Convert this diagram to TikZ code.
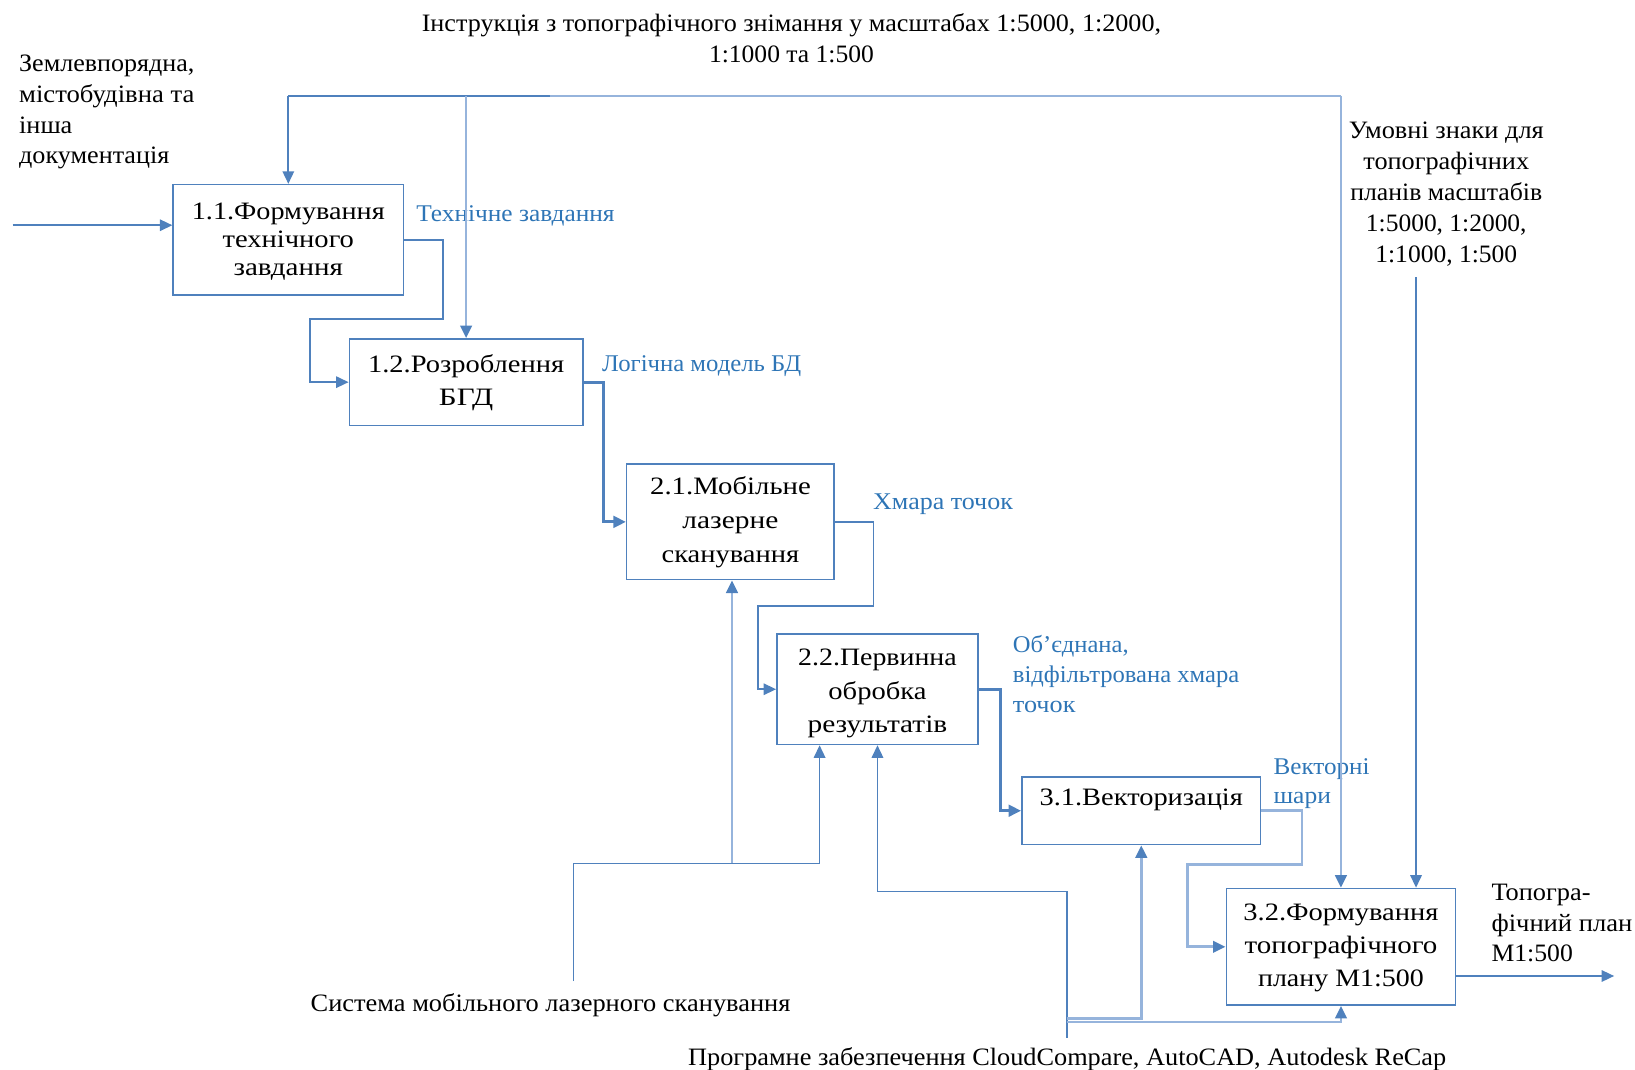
\documentclass[tikz,border=0pt]{standalone}
\usepackage{fontspec}
\setmainfont{Liberation Serif}
\usepackage{graphicx}
\usetikzlibrary{arrows.meta}
\definecolor{lnc}{RGB}{79,129,189}
\definecolor{lnl}{RGB}{150,180,220}
\definecolor{lblc}{RGB}{46,117,182}
\newlength\pxu \setlength\pxu{0.5pt}
\newcommand\lw[2]{\resizebox{#1\pxu}{\height}{#2}}
\newcommand\lowr[2]{\raisebox{-#1}[\height][\depth]{#2}}
\begin{document}
\begin{tikzpicture}[x=0.5pt,y=-0.5pt,
  box/.style={draw=lnc,line width=0.7pt,inner sep=0pt,align=center},
  txt/.style={inner sep=0pt,text=black},
  lbl/.style={inner sep=0pt,text=lblc},
  ln/.style={draw=lnc,line width=0.8pt},
  thk/.style={draw=lnc,line width=1.5pt},
  lt/.style={draw=lnl,line width=1.3pt},
  tip/.style={-{Triangle[length=6pt,width=5.5pt,color=lnc]}}]
\useasboundingbox (0,0) rectangle (1568,1026);

% boxes
\node[box,minimum width=110.5pt,minimum height=53pt,font=\fontsize{12pt}{13.5pt}\selectfont] (b11) at (276.5,230)
 {\lowr{1pt}{\begin{tabular}{@{}c@{}}\lw{185}{1.1.Формування}\\\lw{126}{технічного}\\\lw{105}{завдання}\end{tabular}}};
\node[box,minimum width=112pt,minimum height=41.5pt,font=\fontsize{12pt}{16pt}\selectfont] (b12) at (447,366.5)
 {\begin{tabular}{@{}c@{}}\lw{188}{1.2.Розроблення}\\\lw{52}{БГД}\end{tabular}};
\node[box,minimum width=99.5pt,minimum height=55.5pt,font=\fontsize{12pt}{16.25pt}\selectfont] (b21) at (700.5,500.5)
 {\begin{tabular}{@{}c@{}}\lw{154}{2.1.Мобільне}\\\lw{92}{лазерне}\\\lw{132}{сканування}\end{tabular}};
\node[box,minimum width=96.5pt,minimum height=53pt,font=\fontsize{12pt}{16pt}\selectfont] (b22) at (841.5,661)
 {\lowr{1.5pt}{\begin{tabular}{@{}c@{}}\lw{152}{2.2.Первинна}\\\lw{94}{обробка}\\\lw{134}{результатів}\end{tabular}}};
\node[box,minimum width=114.5pt,minimum height=32.5pt,font=\fontsize{12pt}{16pt}\selectfont] (b31) at (1094.5,777.5)
 {\begin{tabular}{@{}c@{}}\lw{195}{3.1.Векторизація}\\[-5pt]~\end{tabular}};
\node[box,minimum width=110pt,minimum height=56pt,font=\fontsize{12pt}{16pt}\selectfont] (b32) at (1286,908)
 {\begin{tabular}{@{}c@{}}\lw{187}{3.2.Формування}\\\lw{185}{топографічного}\\\lw{159}{плану М1:500}\end{tabular}};

% texts
\node[txt,anchor=base,font=\fontsize{12pt}{15pt}\selectfont] (title) at (759,30)
 {\begin{tabular}[t]{@{}c@{}}\lw{709}{Інструкція з топографічного знімання у масштабах 1:5000, 1:2000,}\\\lw{158}{1:1000 та 1:500}\end{tabular}};
\node[txt,anchor=base west,font=\fontsize{12pt}{14.65pt}\selectfont] (zem) at (18,69)
 {\begin{tabular}[t]{@{}l@{}}\lw{168}{Землевпорядна,}\\\lw{168}{містобудівна та}\\\lw{51}{інша}\\\lw{144}{документація}\end{tabular}};
\node[txt,anchor=base,font=\fontsize{12pt}{14.9pt}\selectfont] (uz) at (1387,133)
 {\begin{tabular}[t]{@{}c@{}}\lw{187}{Умовні знаки для}\\\lw{159}{топографічних}\\\lw{184}{планів масштабів}\\\lw{154}{1:5000, 1:2000,}\\\lw{136}{1:1000, 1:500}\end{tabular}};
\node[lbl,anchor=base west,font=\fontsize{11.5pt}{14pt}\selectfont] (tz) at (399,212) {\lw{190}{Технічне завдання}};
\node[lbl,anchor=base west,font=\fontsize{11.5pt}{14pt}\selectfont] (lm) at (577,356) {\lw{191}{Логічна модель БД}};
\node[lbl,anchor=base west,font=\fontsize{11.5pt}{14pt}\selectfont] (ht) at (837,489) {\lw{134}{Хмара точок}};
\node[lbl,anchor=base west,font=\fontsize{11.5pt}{14.25pt}\selectfont] (ob) at (971,626)
 {\begin{tabular}[t]{@{}l@{}}\lw{111}{Об’єднана,}\\\lw{217}{відфільтрована хмара}\\\lw{60}{точок}\end{tabular}};
\node[lbl,anchor=base west,font=\fontsize{11.5pt}{14pt}\selectfont] (vs) at (1221,743)
 {\begin{tabular}[t]{@{}l@{}}\lw{92}{Векторні}\\\lw{55}{шари}\end{tabular}};
\node[txt,anchor=base west,font=\fontsize{12pt}{14.5pt}\selectfont] (tp) at (1430,864)
 {\begin{tabular}[t]{@{}l@{}}\lw{95}{Топогра-}\\\lw{135}{фічний план}\\\lw{78}{M1:500}\end{tabular}};
\node[txt,anchor=base,font=\fontsize{12pt}{14pt}\selectfont] (sys) at (528,970)
 {\lw{460}{Система мобільного лазерного сканування}};
\node[txt,anchor=base,font=\fontsize{12pt}{14pt}\selectfont] (pz) at (1023.5,1022)
 {\lw{727}{Програмне забезпечення CloudCompare, AutoCAD, Autodesk ReCap}};

% free ends
\coordinate (in) at (12,216);
\coordinate (topL) at (276.5,92);
\coordinate (topM) at (527,92);
\coordinate (topC) at (447,92);
\coordinate (topR) at (1286,92);
\coordinate (uzl) at (1358,266);
\coordinate (outE) at (1548,936);
\coordinate (m1) at (550,941);
\coordinate (m1a) at (702,828);
\coordinate (m2) at (1023,995);

% connectors
\draw[ln,tip] (in) -- (b11.west |- in);
\draw[ln] (topM) -- (topL);
\draw[ln,tip] (topL) -- (b11.north);
\draw[lt] (topM) -- (topR);
\draw[lt,tip] (topC) -- (b12.north);
\draw[lt,tip] (topR) -- (b32.north);
\draw[ln,tip] (uzl) -- (b32.north -| uzl);
\draw[ln,tip] (b11.east) -- ++(37,0) |- (297,306) |- (b12.west);
\draw[thk,tip] (b12.east) -- ++(19,0) |- (b21.west);
\draw[ln,tip] (b21.east) -- ++(37,0) |- (727,581) |- (b22.west);
\draw[thk,tip] (b22.east) -- ++(21,0) |- (b31.west);
\draw[lt,tip] (b31.east) -- ++(39,0) |- (1139,829) |- (b32.west);
\draw[ln,tip] (b32.east |- outE) -- (outE);
\draw[ln] (m1) |- (m1a);
\draw[lt,tip] (m1a) -- (b21.south -| m1a);
\draw[ln,tip] (m1a) -| (786,0 |- b22.south);
\draw[ln,tip] (m2) -- (1023,855) -| (b22.south);
\draw[lt,tip] (1023,977) -| (b31.south);
\draw[lt,tip] (1023,980) -| (b32.south);
\end{tikzpicture}
\end{document}
